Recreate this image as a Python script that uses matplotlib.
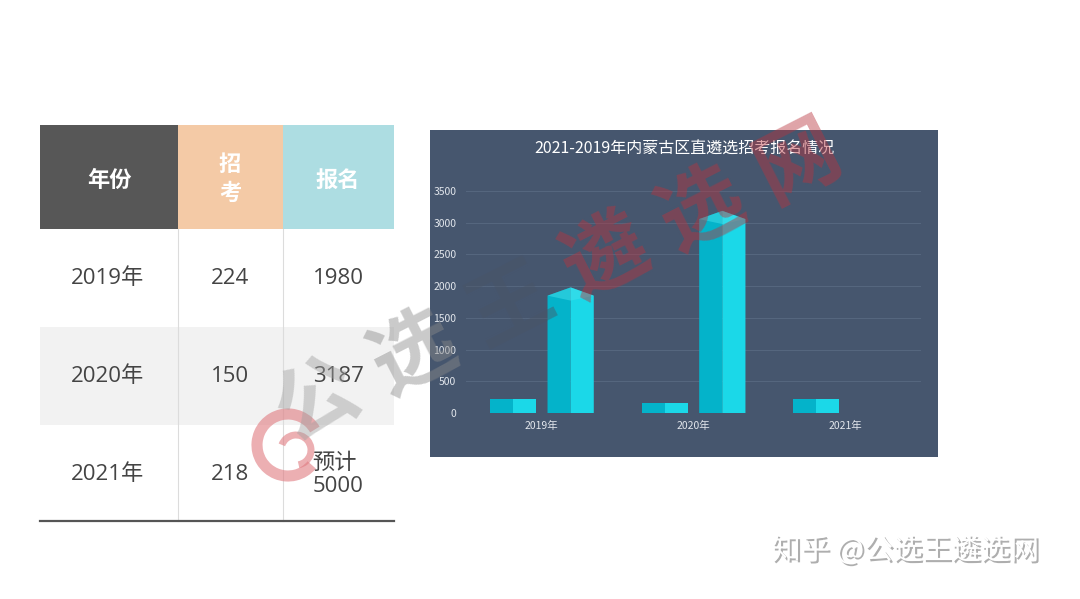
import matplotlib.pyplot as plt
import matplotlib.patches as mpatches
import matplotlib.patheffects as pe

plt.rcParams['font.family'] = ['Noto Sans CJK SC', 'DejaVu Sans']

# data
years = ['2019年', '2020年', '2021年']
recruit = [224, 150, 218]
apply_num = [1980, 3187, None]
apply_text = ['1980', '3187', '预计\n5000']
yticks = [0, 500, 1000, 1500, 2000, 2500, 3000, 3500]
title = '2021-2019年内蒙古区直遴选招考报名情况'

fig = plt.figure(figsize=(10.8, 5.99), dpi=100)
fig.patch.set_facecolor('white')

# background layer in pixel coords (table + chart panel)
bg = fig.add_axes([0, 0, 1, 1], zorder=0)
bg.set_xlim(0, 1080)
bg.set_ylim(599, 0)
bg.axis('off')

# table
cols = [(40, 178), (178, 283), (283, 394)]
head_colors = ['#575757', '#f4caa6', '#addde2']
bg.add_patch(mpatches.Rectangle((40, 327), 354, 98, color='#f2f2f2', lw=0))
for (x0, x1), c in zip(cols, head_colors):
    bg.add_patch(mpatches.Rectangle((x0, 125), x1 - x0, 104, color=c, lw=0))
for xv in [178, 283]:
    bg.plot([xv, xv], [229, 521], color='#dcdcdc', lw=0.8)
bg.plot([40, 394], [521, 521], color='#555555', lw=1.6)

hfont = dict(color='white', fontsize=16, fontweight='bold', ha='center', va='center')
bg.text(109, 180, '年份', **hfont)
bg.text(230, 179, '招\n考', linespacing=1.35, **hfont)
bg.text(338, 180, '报名', **hfont)

body = dict(color='#444444', fontsize=16, ha='center', va='center',
            family=['Open Sans', 'Noto Sans CJK SC'])
row_y = [279, 377, 475]
for i in range(3):
    bg.text(108, row_y[i], years[i], **body)
    bg.text(230, row_y[i], str(recruit[i]), **body)
    bg.text(338, row_y[i], apply_text[i], multialignment='left', linespacing=1.1, **body)

# chart panel background
bg.add_patch(mpatches.Rectangle((430, 130), 508, 327, color='#46566e', lw=0))

# chart
ax = fig.add_axes([466 / 1080, (599 - 413) / 599, 455 / 1080, 222 / 599], zorder=1)
ax.set_facecolor('none')
ax.set_xlim(-0.5, 2.5)
ax.set_ylim(0, 3500)
for s in ax.spines.values():
    s.set_visible(False)
ax.set_yticks(yticks)
ax.set_xticks(range(3))
ax.set_xticklabels(years)
ax.tick_params(length=0, colors='#e2e6ec', labelsize=7.5)
ax.tick_params(axis='y', pad=7)
ax.tick_params(axis='x', pad=6)
ax.yaxis.grid(True, color='#55667e', lw=0.8)
ax.set_axisbelow(True)

dark = '#04b3ca'
light = '#1bd8e8'
bw = 0.305
off = 0.19
peak = 130


def draw_bar(xc, val, pointed):
    x0, x1 = xc - bw / 2, xc + bw / 2
    top = val - peak if pointed else val
    ax.add_patch(mpatches.Polygon([(x0, 0), (xc, 0), (xc, val), (x0, top)],
                                  closed=True, color=dark, lw=0, zorder=3))
    ax.add_patch(mpatches.Polygon([(xc, 0), (x1, 0), (x1, top), (xc, val)],
                                  closed=True, color=light, lw=0, zorder=3))
    if pointed:
        ax.add_patch(mpatches.Polygon([(x0, top), (xc, val), (x1, top), (xc, top - 0.6 * peak)],
                                      closed=True, color='#45dfeb', alpha=0.5, lw=0, zorder=4))


for i in range(3):
    draw_bar(i - off, recruit[i], False)
    if apply_num[i] is not None:
        draw_bar(i + off, apply_num[i], True)

fig.text(684 / 1080, 1 - 149 / 599, title, color='white', fontsize=11.5,
         ha='center', va='center')

# watermark
wm_chars = ['公', '选', '王', '遴', '选', '网']
wm_cols = ['#a0a0a0', '#8a8a8a', '#4a5566', '#b8343e', '#b8343e', '#b8343e']
for k, (ch, c) in enumerate(zip(wm_chars, wm_cols)):
    px = 318 + k * 96
    py = 402 - k * 48
    fig.text(px / 1080, 1 - py / 599, ch, color=c, alpha=0.45, fontsize=60,
             fontweight='bold', rotation=27, ha='center', va='center', zorder=5)
logo = mpatches.Arc((288, 445), 62, 62, theta1=40, theta2=330, color='#e07a80',
                    lw=8, alpha=0.6, transform=bg.transData)
fig.add_artist(logo)
logo2 = mpatches.Arc((296, 450), 30, 30, theta1=200, theta2=80, color='#e07a80',
                     lw=5, alpha=0.6, transform=bg.transData)
fig.add_artist(logo2)

# zhihu tag
fig.text(905 / 1080, 1 - 551 / 599, '知乎 @公选王遴选网', color='white', fontsize=21,
         ha='center', va='center', zorder=6,
         path_effects=[pe.withSimplePatchShadow(offset=(1.5, -1.5), shadow_rgbFace='#9a9a9a', alpha=0.8)])

fig.savefig('out.png', dpi=100)
